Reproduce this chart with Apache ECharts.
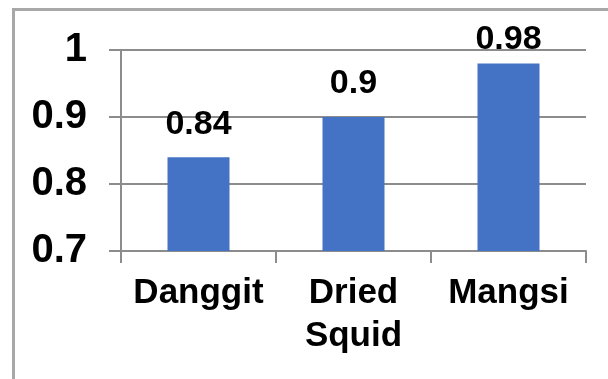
<!DOCTYPE html>
<html>
<head>
<meta charset="utf-8">
<title>Bar chart</title>
<script src="https://cdn.jsdelivr.net/npm/echarts@6/dist/echarts.min.js"></script>
<style>
  html, body { margin: 0; padding: 0; background: #ffffff; }
  #chart { width: 608px; height: 379px; }
</style>
</head>
<body>
<div id="chart"></div>
<script>
// Products and their measured values
const categories = ['Danggit', 'Dried Squid', 'Mangsi'];
const values = [0.84, 0.9, 0.98];

// Value axis range
const yMin = 0.7;
const yMax = 1;
const yStep = 0.1;

const FONT = "'Liberation Sans', Arial, sans-serif";
const GRID_GRAY = '#8c8c8c';

const chart = echarts.init(document.getElementById('chart'), null, { renderer: 'canvas' });

// The tallest bar's label sits a little closer to its bar
const labelDistance = (v) => (v === Math.max(...values) ? 7 : 16);

const option = {
  animation: false,
  backgroundColor: '#ffffff',
  graphic: [{
    type: 'rect',
    shape: { x: 13.5, y: 9.5, width: 700, height: 500 },
    style: { fill: 'none', stroke: '#a8a8a8', lineWidth: 3 },
    silent: true
  }],
  grid: { left: 121, right: 22, top: 50, bottom: 128, containLabel: false },
  xAxis: {
    type: 'category',
    data: categories,
    axisLine: { show: true, lineStyle: { color: GRID_GRAY, width: 2 } },
    axisTick: { show: true, length: 12, lineStyle: { color: GRID_GRAY, width: 2 } },
    axisLabel: {
      margin: 21,
      color: '#000',
      fontFamily: FONT,
      fontWeight: 'bold',
      fontSize: 35,
      lineHeight: 43,
      interval: 0,
      formatter: (name) => name.replace(' ', '\n')
    }
  },
  yAxis: {
    type: 'value',
    min: yMin,
    max: yMax,
    interval: yStep,
    axisLine: { show: true, lineStyle: { color: GRID_GRAY, width: 2 } },
    axisTick: { show: true, length: 12, lineStyle: { color: GRID_GRAY, width: 2 } },
    splitLine: { show: true, lineStyle: { color: GRID_GRAY, width: 2 } },
    axisLabel: {
      margin: 34,
      color: '#000',
      fontFamily: FONT,
      fontWeight: 'bold',
      fontSize: 40
    }
  },
  series: [{
    type: 'bar',
    barWidth: '40%',
    itemStyle: { color: '#4472C4' },
    data: values.map((v) => ({
      value: v,
      label: { distance: labelDistance(v) }
    })),
    label: {
      show: true,
      position: 'top',
      color: '#000',
      fontFamily: FONT,
      fontWeight: 'bold',
      fontSize: 34
    }
  }]
};

chart.setOption(option);
</script>
</body>
</html>
